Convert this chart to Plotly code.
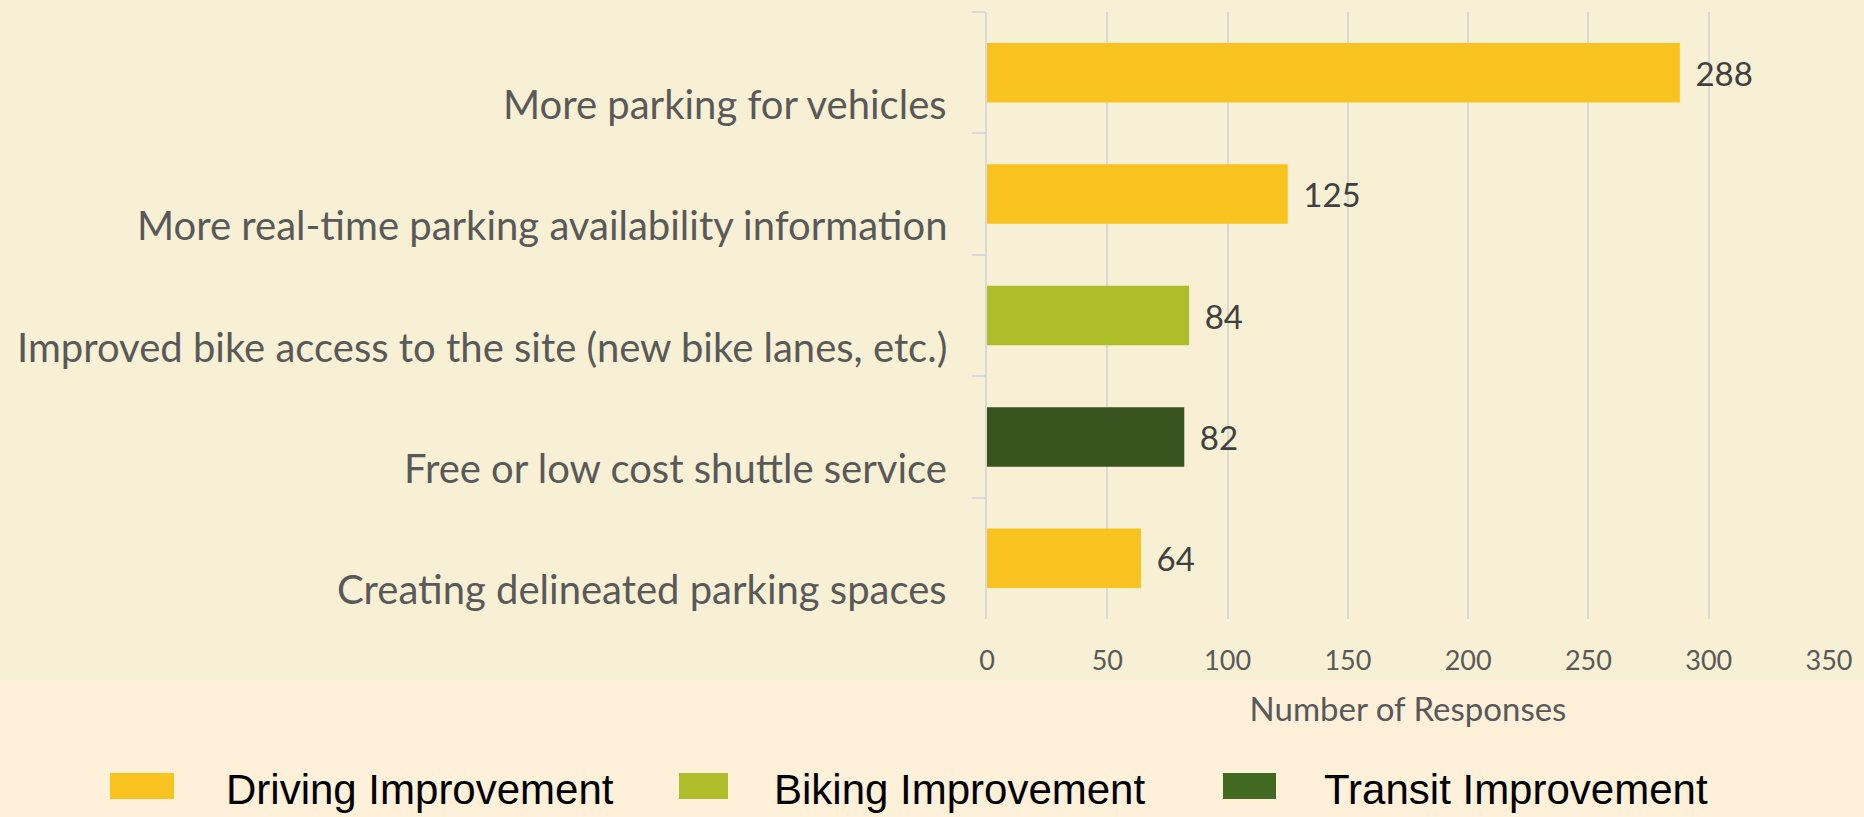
import plotly.graph_objects as go

# survey results
categories = [
    "More parking for vehicles",
    "More real-time parking availability information",
    "Improved bike access to the site (new bike lanes, etc.)",
    "Free or low cost shuttle service",
    "Creating delineated parking spaces",
]
responses = [288, 125, 84, 82, 64]
improvement = ["Driving Improvement", "Driving Improvement", "Biking Improvement",
               "Transit Improvement", "Driving Improvement"]

groups = ["Driving Improvement", "Biking Improvement", "Transit Improvement"]
group_colors = {"Driving Improvement": "#F9C31F",
                "Biking Improvement": "#ADBE2A",
                "Transit Improvement": "#38531E"}
legend_colors = {"Driving Improvement": "#F9C31F",
                 "Biking Improvement": "#ADBE2A",
                 "Transit Improvement": "#41691F"}

W, H = 1864, 817
ML, MR, MT, MB = 987, 35, 12, 198
PW, PH = W - ML - MR, H - MT - MB

def px_x(x):
    return (x - ML) / PW

def px_y(y):
    return (H - MB - y) / PH

fig = go.Figure()
fig.add_trace(go.Bar(
    x=responses,
    y=categories,
    orientation="h",
    marker_color=[group_colors[g] for g in improvement],
    marker_line_width=0,
    texttemplate=" \u2009%{x}",
    textposition="outside",
    textfont=dict(family="Lato", size=33, color="#404040"),
    cliponaxis=False,
    showlegend=False,
))

# category labels sit a little below each bar
annots = []
for c in categories:
    annots.append(dict(
        x=0, xref="paper", y=c, yref="y",
        text=c, showarrow=False,
        xanchor="right", yanchor="middle",
        xshift=-38, yshift=-31,
        font=dict(family="Lato", size=40, color="#595959"),
    ))

# legend drawn by hand
leg_box = [(110, 174), (679, 728), (1223, 1276)]
leg_text = [224, 772, 1322]
shapes = [dict(type="rect", xref="paper", yref="paper",
               x0=-1.5, x1=1.5, y0=px_y(H + 5), y1=px_y(680),
               fillcolor="#FEF0D9", line_width=0, layer="below")]
for g, (x0, x1), tx in zip(groups, leg_box, leg_text):
    shapes.append(dict(type="rect", xref="paper", yref="paper",
                       x0=px_x(x0), x1=px_x(x1), y0=px_y(799), y1=px_y(773),
                       fillcolor=legend_colors[g], line_width=0))
    annots.append(dict(x=px_x(tx), xref="paper", y=px_y(789), yref="paper",
                       text=g, showarrow=False, xanchor="left", yanchor="middle",
                       font=dict(family="Liberation Sans, Arial", size=42, color="#000000")))

fig.update_layout(
    width=W, height=H,
    margin=dict(l=ML, r=MR, t=MT, b=MB),
    paper_bgcolor="#F7F0D5",
    plot_bgcolor="#F7F0D5",
    bargap=0.51,
    shapes=shapes,
    annotations=annots,
    xaxis=dict(
        range=[0, 350], dtick=50,
        showgrid=True, gridcolor="#D9D9D9", gridwidth=1.5,
        zeroline=False, showline=False,
        ticks="", ticklabelstandoff=23,
        tickfont=dict(family="Lato", size=27, color="#595959"),
        title=dict(text="Number of Responses", standoff=22,
                   font=dict(family="Lato", size=33, color="#595959")),
    ),
    yaxis=dict(
        autorange="reversed",
        showticklabels=False,
        tickson="boundaries", ticks="outside", ticklen=13,
        tickcolor="#D9D9D9", tickwidth=2,
        showline=True, linecolor="#D9D9D9", linewidth=2,
        showgrid=False,
    ),
)

fig.write_html("out.html", config={"displayModeBar": False},
               post_script="document.body.style.margin='0';")
